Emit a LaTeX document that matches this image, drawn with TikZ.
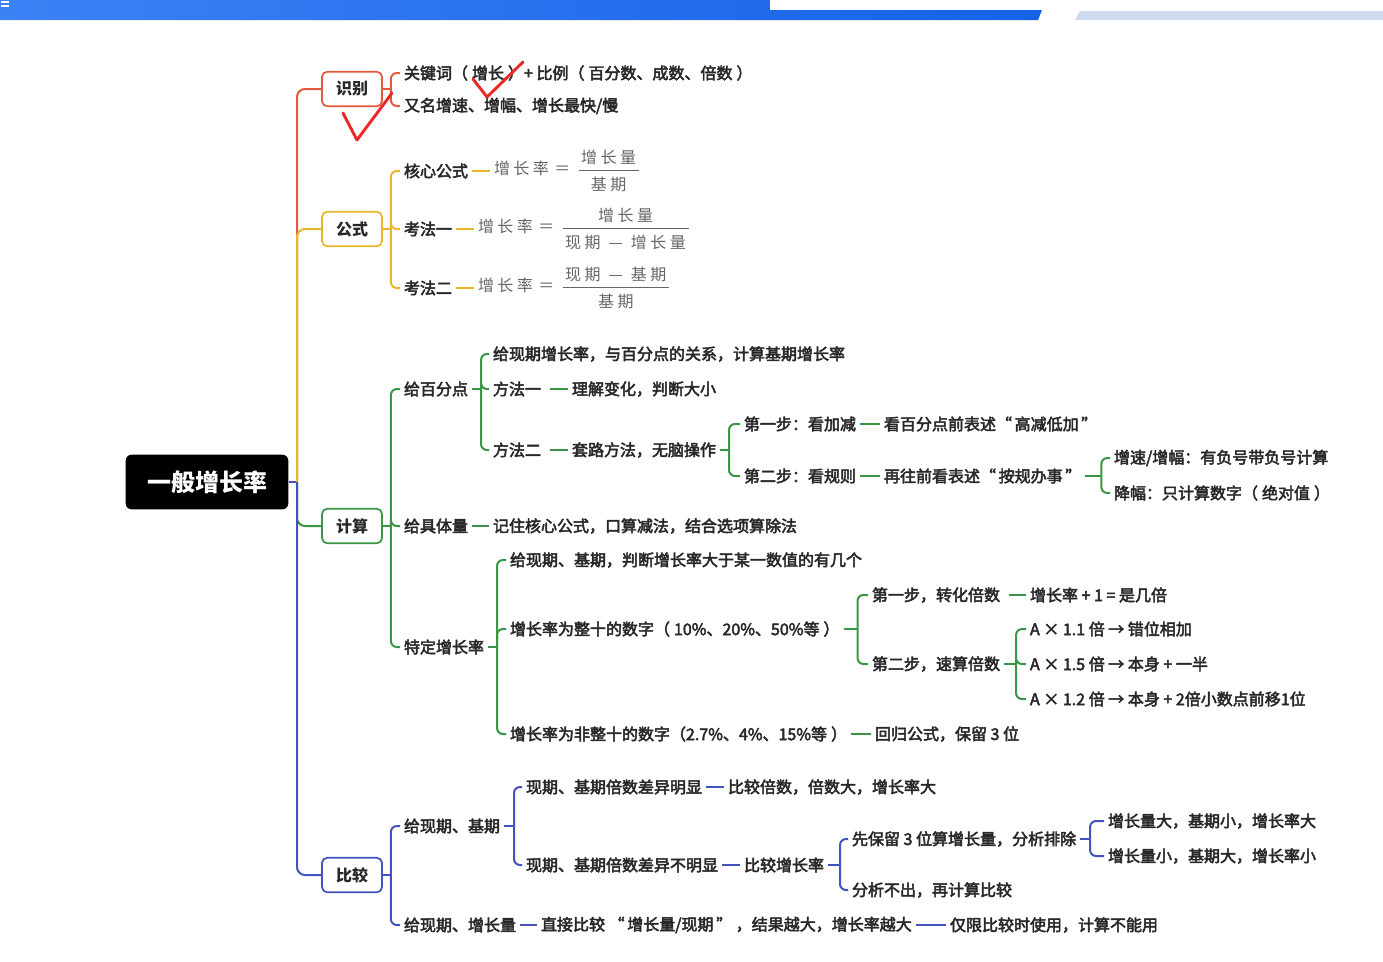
\documentclass[tikz,border=0pt]{standalone}
\usepackage{fontspec}
\usepackage{amsmath}
\setmainfont{Noto Sans CJK SC}
\newfontfamily\bodyfont{Noto Sans CJK SC}[FakeBold=3]
\definecolor{redc}{RGB}{226,90,60}
\definecolor{yelc}{RGB}{232,182,40}
\definecolor{grnc}{RGB}{56,150,68}
\definecolor{bluc}{RGB}{66,82,192}
\definecolor{txtc}{RGB}{40,40,40}
\definecolor{barc}{RGB}{20,98,232}
\definecolor{barl}{RGB}{60,130,245}
\definecolor{barg}{RGB}{205,218,240}
\definecolor{tickc}{RGB}{235,40,40}

% fraction with a thick bar and some air
\newcommand{\zfrac}[2]{\genfrac{}{}{1.1pt}{0}{\,#1\rule[-1.5pt]{0pt}{1.5pt}\,}{\,\rule{0pt}{11.5pt}#2\,}}
\newcommand{\fgap}{\hspace{2.6pt}}
\newcommand{\feq}{\hspace{4pt}\mbox{＝}\hspace{5pt}}
\newcommand{\fmin}{\mathbin{\;\mbox{—}\;}}

\tikzset{every picture/.style={line width=1.5pt}}
\tikzset{
  txt/.style={anchor=west, inner sep=2.25pt, text=txtc, font=\fontsize{12}{14}\bodyfont},
  frm/.style={anchor=west, inner sep=2.25pt, text=black!60, font=\fontsize{12}{14}\selectfont},
  topic/.style={draw=#1, fill=white, rounded corners=4pt, line width=1.3pt, minimum width=45pt, minimum height=26pt, inner sep=0pt, text=txtc, font=\fontsize{12}{14}\selectfont\bfseries},
  rootbox/.style={fill=black, rounded corners=4.5pt, minimum width=122pt, minimum height=41pt, inner sep=0pt, text=white, font=\fontsize{18}{20}\selectfont\bfseries},
  lnk/.style={draw=#1, line width=1.5pt},
  brk/.style={draw=#1, line width=1.5pt, rounded corners=4.5pt},
  tick/.style={draw=tickc, line width=2.2pt, line cap=round, line join=round},
}

\begin{document}
\begin{tikzpicture}[x=0.75pt,y=0.75pt,yscale=-1,xscale=1]
    \useasboundingbox (0,0) rectangle (1383,961);
    % top banner
    \shade[left color=barl, right color=barc] (0,0) -- (1046,0) -- (1038,20) -- (0,20) -- cycle;
    \fill[white] (770,0) rectangle (1383,10);
    \fill[barg] (1080,11) -- (1383,11) -- (1383,20) -- (1075,20) -- cycle;
    \draw[white, line width=1pt] (1,2) -- (9,2) (1,6) -- (9,6);

    % Root
    \node[rootbox] (root) at (207,482) {一般增长率};
    \coordinate (hub) at (297,482);

    % Topic boxes
    \node[topic=redc] (sb) at (352,89) {识别};
    \node[topic=yelc] (gs) at (352,229) {公式};
    \node[topic=grnc] (js) at (352,526) {计算};
    \node[topic=bluc] (bj) at (352,875) {比较};

    % 识别
    \node[txt] (sb1) at (400,73) {关键词（\hspace{3pt}增长\hspace{3pt}）+ 比例（\hspace{3pt}百分数、成数、倍数\hspace{3pt}）};
    \node[txt] (sb2) at (400,106) {又名增速、增幅、增长最快/慢};

    % 公式
    \node[txt] (gs1) at (400,171) {核心公式};
    \node[frm] (gs1f) at (490,171) {$\mbox{增\fgap 长\fgap 率}\feq\zfrac{\mbox{增\fgap 长\fgap 量}}{\mbox{基\fgap 期}}$};
    \node[txt] (gs2) at (400,229) {考法一};
    \node[frm] (gs2f) at (474,229) {$\mbox{增\fgap 长\fgap 率}\feq\zfrac{\mbox{增\fgap 长\fgap 量}}{\mbox{现\fgap 期}\fmin\mbox{增\fgap 长\fgap 量}}$};
    \node[txt] (gs3) at (400,288) {考法二};
    \node[frm] (gs3f) at (474,288) {$\mbox{增\fgap 长\fgap 率}\feq\zfrac{\mbox{现\fgap 期}\fmin\mbox{基\fgap 期}}{\mbox{基\fgap 期}}$};

    % 计算
    \node[txt] (js1) at (400,389) {给百分点};
    \node[txt] (js11) at (489,354) {给现期增长率，与百分点的关系，计算基期增长率};
    \node[txt] (js12) at (489,389) {方法一};
    \node[txt] (js12a) at (568,389) {理解变化，判断大小};
    \node[txt] (js13) at (489,450) {方法二};
    \node[txt] (js13a) at (568,450) {套路方法，无脑操作};
    \node[txt] (js131) at (740,424) {第一步：看加减};
    \node[txt] (js131a) at (880,424) {看百分点前表述“\,高减低加\,”};
    \node[txt] (js132) at (740,476) {第二步：看规则};
    \node[txt] (js132a) at (880,476) {再往前看表述“\,按规办事\,”};
    \node[txt] (js1321) at (1110,458) {增速/增幅：有负号带负号计算};
    \node[txt] (js1322) at (1110,493) {降幅：只计算数字（\hspace{3pt}绝对值\hspace{3pt}）};

    \node[txt] (js2) at (400,526) {给具体量};
    \node[txt] (js2a) at (489,526) {记住核心公式，口算减法，结合选项算除法};

    \node[txt] (js3) at (400,647) {特定增长率};
    \node[txt] (js31) at (506,560) {给现期、基期，判断增长率大于某一数值的有几个};
    \node[txt] (js32) at (506,629) {增长率为整十的数字（\hspace{3pt}10\%、20\%、50\%等\hspace{3pt}）};
    \node[txt] (js321) at (868,595) {第一步，转化倍数};
    \node[txt] (js321a) at (1026,595) {增长率 + 1 = 是几倍};
    \node[txt] (js322) at (868,664) {第二步，速算倍数};
    \node[txt] (js3221) at (1026,629) {A × 1.1 倍 → 错位相加};
    \node[txt] (js3222) at (1026,664) {A × 1.5 倍 → 本身 + 一半};
    \node[txt] (js3223) at (1026,699) {A × 1.2 倍 → 本身 + 2倍小数点前移1位};
    \node[txt] (js33) at (506,734) {增长率为非整十的数字（2.7\%、4\%、15\%等\hspace{3pt}）};
    \node[txt] (js33a) at (871,734) {回归公式，保留 3 位};

    % 比较
    \node[txt] (bj1) at (400,826) {给现期、基期};
    \node[txt] (bj11) at (522,787) {现期、基期倍数差异明显};
    \node[txt] (bj11a) at (724,787) {比较倍数，倍数大，增长率大};
    \node[txt] (bj12) at (522,865) {现期、基期倍数差异不明显};
    \node[txt] (bj12a) at (740,865) {比较增长率};
    \node[txt] (bj121) at (848,839) {先保留 3 位算增长量，分析排除};
    \node[txt] (bj1211) at (1104,821) {增长量大，基期小，增长率大};
    \node[txt] (bj1212) at (1104,856) {增长量小，基期大，增长率小};
    \node[txt] (bj122) at (848,890) {分析不出，再计算比较};
    \node[txt] (bj2) at (400,925) {给现期、增长量};
    \node[txt] (bj2a) at (537,925) {直接比较 “\,增长量/现期\,” ，结果越大，增长率越大};
    \node[txt] (bj2b) at (946,925) {仅限比较时使用，计算不能用};

    % trunk
    \draw[lnk=bluc] (root.east) -- (hub);
    \draw[brk=redc, rounded corners=6pt] (hub) |- (sb.west);
    \draw[brk=yelc, rounded corners=6pt] (hub) |- (gs.west);
    \draw[brk=grnc, rounded corners=6pt] (hub) |- (js.west);
    \draw[brk=bluc, rounded corners=6pt] (hub) |- (bj.west);

    % brackets
    \draw[lnk=redc] (sb.east) -- ++(8,0) coordinate (sbj);
    \foreach \c in {sb1,sb2} \draw[brk=redc] (sbj) |- (\c.west);

    \draw[lnk=yelc] (gs.east) -- ++(8,0) coordinate (gsj);
    \foreach \c in {gs1,gs2,gs3} \draw[brk=yelc] (gsj) |- (\c.west);
    \draw[lnk=yelc] (gs1.east) -- (gs1f.west);
    \draw[lnk=yelc] (gs2.east) -- (gs2f.west);
    \draw[lnk=yelc] (gs3.east) -- (gs3f.west);

    \draw[lnk=grnc] (js.east) -- ++(8,0) coordinate (jsj);
    \foreach \c in {js1,js2,js3} \draw[brk=grnc] (jsj) |- (\c.west);
    \draw[lnk=grnc] (js1.east) -- ++(9,0) coordinate (js1j);
    \foreach \c in {js11,js12,js13} \draw[brk=grnc] (js1j) |- (\c.west);
    \draw[lnk=grnc] ([xshift=4]js12.east) -- (js12a.west);
    \draw[lnk=grnc] ([xshift=4]js13.east) -- (js13a.west);
    \draw[lnk=grnc] (js13a.east) -- ++(9,0) coordinate (js13j);
    \foreach \c in {js131,js132} \draw[brk=grnc] (js13j) |- (\c.west);
    \draw[lnk=grnc] (js131.east) -- (js131a.west);
    \draw[lnk=grnc] (js132.east) -- (js132a.west);
    \draw[lnk=grnc] (js132a.east) -- ++(16,0) coordinate (js132j);
    \foreach \c in {js1321,js1322} \draw[brk=grnc] (js132j) |- (\c.west);
    \draw[lnk=grnc] (js2.east) -- (js2a.west);
    \draw[lnk=grnc] (js3.east) -- ++(9,0) coordinate (js3j);
    \foreach \c in {js31,js32,js33} \draw[brk=grnc] (js3j) |- (\c.west);
    \draw[lnk=grnc] (js32.east) -- ++(14,0) coordinate (js32j);
    \foreach \c in {js321,js322} \draw[brk=grnc] (js32j) |- (\c.west);
    \draw[lnk=grnc] ([xshift=4]js321.east) -- (js321a.west);
    \draw[lnk=grnc] (js322.east) -- ++(12,0) coordinate (js322j);
    \foreach \c in {js3221,js3222,js3223} \draw[brk=grnc] (js322j) |- (\c.west);
    \draw[lnk=grnc] (js33.east) -- (js33a.west);

    \draw[lnk=bluc] (bj.east) -- ++(8,0) coordinate (bjj);
    \foreach \c in {bj1,bj2} \draw[brk=bluc] (bjj) |- (\c.west);
    \draw[lnk=bluc] (bj1.east) -- ++(10,0) coordinate (bj1j);
    \foreach \c in {bj11,bj12} \draw[brk=bluc] (bj1j) |- (\c.west);
    \draw[lnk=bluc] (bj11.east) -- (bj11a.west);
    \draw[lnk=bluc] (bj12.east) -- (bj12a.west);
    \draw[lnk=bluc] (bj12a.east) -- ++(12,0) coordinate (bj12j);
    \foreach \c in {bj121,bj122} \draw[brk=bluc] (bj12j) |- (\c.west);
    \draw[lnk=bluc] (bj121.east) -- ++(10,0) coordinate (bj121j);
    \foreach \c in {bj1211,bj1212} \draw[brk=bluc] (bj121j) |- (\c.west);
    \draw[lnk=bluc] (bj2.east) -- (bj2a.west);
    \draw[lnk=bluc] (bj2a.east) -- (bj2b.west);

    % red ticks
    \draw[tick] (473,79) -- (487,97) -- (523,62);
    \draw[tick] (343,113) -- (345,117) -- (357,140) -- (392,93);
\end{tikzpicture}
\end{document}
